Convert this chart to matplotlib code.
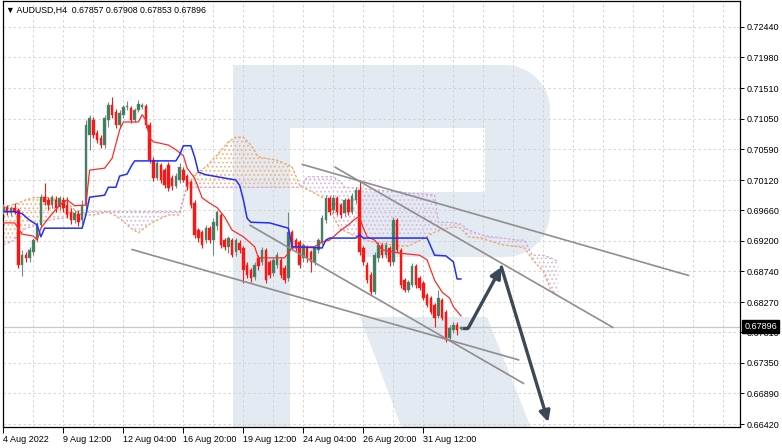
import matplotlib
matplotlib.use("Agg")
import matplotlib.pyplot as plt
from matplotlib.patches import Polygon
import numpy as np

# ---------------- data ----------------
title_text = "AUDUSD,H4  0.67857 0.67908 0.67853 0.67896"
last_price = 0.67896

opens = [0.6964, 0.6971, 0.6964, 0.6970, 0.6967, 0.6883, 0.6898, 0.6894, 0.6903, 0.6921,
         0.6944, 0.6986, 0.6982, 0.6974, 0.6982, 0.6971, 0.6982, 0.6974, 0.6964, 0.6951,
         0.6961, 0.6951, 0.6974, 0.7080, 0.7103, 0.7083, 0.7076, 0.7065, 0.7103, 0.7126,
         0.7115, 0.7095, 0.7111, 0.7123, 0.7121, 0.7103, 0.7118, 0.7123, 0.7124, 0.7095,
         0.7042, 0.7015, 0.7035, 0.7027, 0.7035, 0.7015, 0.7003, 0.7012, 0.7027, 0.7018,
         0.7009, 0.6977, 0.6936, 0.6933, 0.6921, 0.6939, 0.6921, 0.6942, 0.6959, 0.6921,
         0.6911, 0.6921, 0.6903, 0.6917, 0.6909, 0.6883, 0.6876, 0.6865, 0.6894, 0.6888,
         0.6906, 0.6888, 0.6871, 0.6883, 0.6891, 0.6879, 0.6864, 0.6933, 0.6921, 0.6918,
         0.6894, 0.6911, 0.6903, 0.6888, 0.6906, 0.6918, 0.6951, 0.6985, 0.6967, 0.6985,
         0.6974, 0.6962, 0.6982, 0.6964, 0.6982, 0.6997, 0.6909, 0.6883, 0.6868, 0.6842,
         0.6894, 0.6914, 0.6898, 0.6909, 0.6888, 0.6951, 0.6906, 0.6860, 0.6845, 0.6853,
         0.6882, 0.6864, 0.6856, 0.6838, 0.6833, 0.6823, 0.6806, 0.6830, 0.6812, 0.6773,
         0.6785, 0.6792, 0.67857]
closes = [0.6971, 0.6964, 0.6970, 0.6964, 0.6883, 0.6898, 0.6894, 0.6906, 0.6921, 0.6944,
          0.6986, 0.6979, 0.6974, 0.6986, 0.6970, 0.6985, 0.6970, 0.6959, 0.6951, 0.6962,
          0.6948, 0.6974, 0.7095, 0.7106, 0.7080, 0.7073, 0.7065, 0.7106, 0.7126, 0.7111,
          0.7095, 0.7114, 0.7123, 0.7124, 0.7103, 0.7118, 0.7127, 0.7126, 0.7095, 0.7042,
          0.7015, 0.7038, 0.7012, 0.7004, 0.7000, 0.7003, 0.7018, 0.7032, 0.7012, 0.7003,
          0.6974, 0.6929, 0.6924, 0.6914, 0.6939, 0.6921, 0.6948, 0.6964, 0.6914, 0.6911,
          0.6924, 0.6898, 0.6921, 0.6906, 0.6876, 0.6868, 0.6864, 0.6883, 0.6882, 0.6906,
          0.6860, 0.6868, 0.6891, 0.6898, 0.6868, 0.6860, 0.6933, 0.6909, 0.6909, 0.6883,
          0.6914, 0.6894, 0.6888, 0.6909, 0.6921, 0.6954, 0.6985, 0.6964, 0.6985, 0.6964,
          0.6959, 0.6982, 0.6964, 0.6988, 0.6997, 0.6903, 0.6888, 0.6860, 0.6842, 0.6898,
          0.6914, 0.6898, 0.6914, 0.6888, 0.6951, 0.6906, 0.6853, 0.6845, 0.6857, 0.6882,
          0.6853, 0.6848, 0.6833, 0.6823, 0.6812, 0.6803, 0.6833, 0.6803, 0.6770, 0.6788,
          0.6792, 0.6785, 0.67896]
highs = [0.6976, 0.6974, 0.6973, 0.6977, 0.6970, 0.6906, 0.6903, 0.6911, 0.6924, 0.6948,
         0.6991, 0.7007, 0.6986, 0.6989, 0.6988, 0.6988, 0.6986, 0.6986, 0.6970, 0.6967,
         0.6967, 0.6982, 0.7103, 0.7111, 0.7108, 0.7088, 0.7080, 0.7111, 0.7130, 0.7138,
         0.7120, 0.7118, 0.7126, 0.7132, 0.7124, 0.7121, 0.7133, 0.7129, 0.7127, 0.7100,
         0.7047, 0.7042, 0.7038, 0.7030, 0.7039, 0.7020, 0.7023, 0.7038, 0.7032, 0.7021,
         0.7012, 0.6982, 0.6939, 0.6936, 0.6944, 0.6942, 0.6954, 0.6967, 0.6962, 0.6924,
         0.6927, 0.6924, 0.6924, 0.6921, 0.6912, 0.6888, 0.6879, 0.6888, 0.6898, 0.6911,
         0.6909, 0.6891, 0.6894, 0.6903, 0.6895, 0.6883, 0.6964, 0.6936, 0.6924, 0.6921,
         0.6917, 0.6914, 0.6906, 0.6912, 0.6924, 0.6959, 0.6989, 0.6988, 0.6989, 0.6988,
         0.6977, 0.6985, 0.6985, 0.6992, 0.7001, 0.7012, 0.6912, 0.6888, 0.6873, 0.6903,
         0.6918, 0.6917, 0.6918, 0.6912, 0.6956, 0.6954, 0.6909, 0.6864, 0.6860, 0.6886,
         0.6885, 0.6867, 0.6859, 0.6841, 0.6836, 0.6826, 0.6845, 0.6833, 0.6815, 0.6792,
         0.6797, 0.6797, 0.67908]
lows = [0.6961, 0.6959, 0.6957, 0.6961, 0.6879, 0.6867, 0.6888, 0.6888, 0.6898, 0.6918,
        0.6939, 0.6974, 0.6967, 0.6970, 0.6964, 0.6967, 0.6964, 0.6954, 0.6945, 0.6947,
        0.6942, 0.6945, 0.6967, 0.7058, 0.7076, 0.7068, 0.7061, 0.7061, 0.7092, 0.7106,
        0.7091, 0.7091, 0.7106, 0.7118, 0.7098, 0.7100, 0.7115, 0.7120, 0.7091, 0.7038,
        0.7010, 0.7012, 0.7007, 0.7000, 0.6995, 0.6997, 0.7000, 0.7007, 0.7009, 0.6997,
        0.6970, 0.6924, 0.6918, 0.6909, 0.6917, 0.6917, 0.6898, 0.6936, 0.6909, 0.6906,
        0.6901, 0.6895, 0.6897, 0.6901, 0.6856, 0.6864, 0.6857, 0.6860, 0.6876, 0.6883,
        0.6856, 0.6864, 0.6867, 0.6879, 0.6864, 0.6856, 0.6859, 0.6906, 0.6904, 0.6879,
        0.6888, 0.6888, 0.6873, 0.6883, 0.6901, 0.6914, 0.6947, 0.6959, 0.6962, 0.6959,
        0.6954, 0.6957, 0.6959, 0.6961, 0.6977, 0.6898, 0.6883, 0.6856, 0.6838, 0.6839,
        0.6888, 0.6894, 0.6894, 0.6882, 0.6883, 0.6901, 0.6848, 0.6842, 0.6842, 0.6850,
        0.6848, 0.6845, 0.6830, 0.6820, 0.6809, 0.6789, 0.6803, 0.6800, 0.6767, 0.6770,
        0.6780, 0.6777, 0.67853]

x_tick_bars = [0, 16, 32, 48, 64, 80, 96, 112]
x_tick_labels = ["4 Aug 2022", "9 Aug 12:00", "12 Aug 04:00", "16 Aug 20:00",
                 "19 Aug 12:00", "24 Aug 04:00", "26 Aug 20:00", "31 Aug 12:00"]
price_ticks = [0.72440, 0.71980, 0.71510, 0.71050, 0.70590, 0.70120, 0.69660,
               0.69200, 0.68740, 0.68270, 0.67810, 0.67350, 0.66890, 0.66420]

tenkan_bar = [0, 3, 5, 8, 9, 10, 12, 15, 17, 19, 22, 23, 27, 29, 31, 32, 36, 37, 38, 39,
              40, 44, 46, 48, 49, 51, 53, 55, 57, 59, 61, 64, 67, 68, 75, 77, 83, 85, 87, 90,
              92, 94, 95, 96, 97, 99, 101, 106, 111, 113, 115, 117, 119, 120, 122]
tenkan_val = [0.6947, 0.6947, 0.6930, 0.6927, 0.6921, 0.6939, 0.6954, 0.6974, 0.6982, 0.6973,
              0.6974, 0.7027, 0.7030, 0.7045, 0.7088, 0.7100, 0.7100, 0.7111, 0.7103, 0.7076,
              0.7070, 0.7065, 0.7058, 0.7049, 0.7030, 0.7015, 0.6985, 0.6977, 0.6970, 0.6956,
              0.6936, 0.6926, 0.6911, 0.6894, 0.6894, 0.6909, 0.6911, 0.6918, 0.6921, 0.6936,
              0.6944, 0.6954, 0.6956, 0.6939, 0.6926, 0.6921, 0.6906, 0.6901, 0.6898, 0.6891,
              0.6860, 0.6842, 0.6833, 0.6820, 0.6806]

kijun_bar = [0, 3, 5, 7, 9, 10, 11, 21, 22, 23, 27, 28, 30, 31, 33, 34, 35, 46, 47, 48,
             50, 51, 52, 54, 57, 62, 63, 64, 65, 66, 71, 76, 77, 85, 86, 87, 94, 95, 96, 113,
             115, 118, 120, 121, 122]
kijun_val = [0.6964, 0.6964, 0.6961, 0.6951, 0.6944, 0.6926, 0.6939, 0.6939, 0.6959, 0.6986,
             0.6989, 0.7001, 0.7001, 0.7018, 0.7021, 0.7032, 0.7041, 0.7041, 0.7050, 0.7064,
             0.7064, 0.7047, 0.7024, 0.7020, 0.7017, 0.7012, 0.7004, 0.6982, 0.6954, 0.6948,
             0.6947, 0.6939, 0.6911, 0.6909, 0.6921, 0.6924, 0.6924, 0.6929, 0.6924, 0.6924,
             0.6898, 0.6897, 0.6888, 0.6862, 0.6862]

cloud_bar = [0, 2, 4, 6, 8, 10, 11, 14, 16, 17, 19, 21, 22, 24, 28, 31, 34, 36, 39, 42,
             44, 47, 48, 49, 51, 54, 57, 60, 62, 64, 66, 68, 73, 77, 79, 80, 81, 84, 87, 88,
             90, 91, 93, 95, 97, 100, 103, 106, 108, 112, 115, 116, 118, 120, 122, 124, 127, 129, 133, 137,
             139, 141, 144, 146, 148]
span_a = [0.6970, 0.6974, 0.6977, 0.6982, 0.6985, 0.6986, 0.6986, 0.6983, 0.6980, 0.6977,
          0.6967, 0.6959, 0.6959, 0.6959, 0.6964, 0.6954, 0.6939, 0.6932, 0.6945, 0.6954,
          0.6959, 0.6959, 0.6985, 0.7004, 0.7020, 0.7032, 0.7050, 0.7070, 0.7077, 0.7077,
          0.7065, 0.7047, 0.7042, 0.7032, 0.7004, 0.7000, 0.6998, 0.6989, 0.6980, 0.6956,
          0.6936, 0.6935, 0.6929, 0.6926, 0.6920, 0.6917, 0.6914, 0.6912, 0.6912, 0.6923,
          0.6933, 0.6935, 0.6938, 0.6941, 0.6939, 0.6926, 0.6924, 0.6921, 0.6914, 0.6911,
          0.6909, 0.6892, 0.6873, 0.6845, 0.6835]
span_b = [0.6914, 0.6918, 0.6927, 0.6939, 0.6942, 0.6948, 0.6950, 0.6953, 0.6954, 0.6956,
          0.6957, 0.6961, 0.6964, 0.6964, 0.6964, 0.6964, 0.6964, 0.6964, 0.6964, 0.6964,
          0.6964, 0.6964, 0.6982, 0.7001, 0.7001, 0.7001, 0.7001, 0.7001, 0.7001, 0.7001,
          0.7001, 0.7001, 0.7001, 0.7001, 0.7001, 0.7007, 0.7017, 0.7017, 0.7017, 0.7017,
          0.7009, 0.7001, 0.7000, 0.7000, 0.6998, 0.6997, 0.6995, 0.6994, 0.6992, 0.6991,
          0.6989, 0.6948, 0.6948, 0.6947, 0.6945, 0.6936, 0.6930, 0.6927, 0.6924, 0.6921,
          0.6921, 0.6898, 0.6898, 0.6894, 0.6888]

# trend lines: [bar_start, bar_end], [price_start, price_end]
trend1_bar, trend1_val = [34.1, 137.6], [0.6907, 0.6739]
trend2_bar, trend2_val = [65.6, 138.9], [0.6944, 0.6703]
trend3_bar, trend3_val = [79.5, 182.9], [0.7036, 0.6867]
trend4_bar, trend4_val = [88.3, 162.7], [0.7032, 0.6788]
# forecast arrows
arrow_bar = [122.3, 124.0, 132.8, 145.3]
arrow_val = [0.6788, 0.6788, 0.6880, 0.6645]

# ---------------- figure ----------------
FONT = ["Liberation Sans", "DejaVu Sans"]
W, H = 782, 448
fig = plt.figure(figsize=(W / 100, H / 100), dpi=100)
fig.patch.set_facecolor("white")
ax = fig.add_axes([3 / W, 1 - 427 / H, 737 / W, 426 / H])
ax.set_facecolor("white")

xmin = -0.1
ax.set_xlim(xmin, xmin + 737 / 3.75)
ax.set_ylim(0.66376, 0.72834)


def px(x, y):
    return (x / W, 1 - y / H)


# watermark "R"
wm_color = "#E4EAF2"
def arc(cx, cy, r, a0, a1, n=12):
    t = np.linspace(np.radians(a0), np.radians(a1), n)
    return [(cx + r * np.cos(tt), cy - r * np.sin(tt)) for tt in t]

outer = [(233, 65), (505, 65)] + arc(505, 110, 45, 90, 0) + [(550, 212)] + arc(505, 212, 45, 0, -90) + \
        [(360, 257), (360, 192), (485, 192), (485, 128), (290, 128), (290, 450), (233, 450)]
leg = [(360, 317), (487, 317), (540, 450), (410, 450)]
for poly in (outer, leg):
    p = Polygon([px(x, y) for x, y in poly], closed=True, transform=fig.transFigure,
                facecolor=wm_color, edgecolor="none", zorder=0)
    ax.add_patch(p)
    p.set_clip_path(ax.patch)

# grid
for v in price_ticks:
    ax.axhline(v, color="#CFCFCF", lw=0.6, ls=(0, (3, 3)), zorder=1)
for b in range(8, 200, 8):
    ax.axvline(b, color="#CFCFCF", lw=0.6, ls=(0, (3, 3)), zorder=1)

# cloud
plt.rcParams["hatch.linewidth"] = 0.8
ca = np.array(span_a)
cb = np.array(span_b)
ax.fill_between(cloud_bar, ca, cb, where=ca >= cb, interpolate=True, facecolor="none",
                edgecolor="#F4B47E", hatch="....", linewidth=0, zorder=2)
ax.fill_between(cloud_bar, ca, cb, where=ca < cb, interpolate=True, facecolor="none",
                edgecolor="#D8BADE", hatch="....", linewidth=0, zorder=2)
ax.plot(cloud_bar, span_a, color="#F0A060", lw=0.9, ls=(0, (2, 1.5)), zorder=2)
ax.plot(cloud_bar, span_b, color="#D0A8D8", lw=0.9, ls=(0, (2, 1.5)), zorder=2)

# bid line
ax.axhline(last_price, color="#C8C8C8", lw=0.9, zorder=2)

# candles
idx = np.arange(len(opens))
o = np.array(opens); c = np.array(closes)
hi = np.array(highs); lo = np.array(lows)
up = c >= o
bull_body = "#3B7D5E"
bull_wick = "#6F8A7E"
bear = "#FF1414"
ax.vlines(idx[up], lo[up], hi[up], color=bull_wick, lw=0.8, zorder=3)
ax.vlines(idx[~up], lo[~up], hi[~up], color=bear, lw=0.8, zorder=3)
body_h = np.maximum(np.abs(c - o), 0.00004)
ax.bar(idx[up], body_h[up], bottom=np.minimum(o, c)[up], width=0.62, color=bull_body,
       edgecolor=bull_wick, linewidth=0.3, zorder=4)
ax.bar(idx[~up], body_h[~up], bottom=np.minimum(o, c)[~up], width=0.62, color=bear,
       edgecolor=bear, linewidth=0.3, zorder=4)

# ichimoku lines
ax.plot(tenkan_bar, tenkan_val, color="#FF2A2A", lw=0.9, zorder=5)
ax.plot(kijun_bar, kijun_val, color="#1F2FFF", lw=1.1, zorder=5)

# trend lines
for tb, tv in ((trend1_bar, trend1_val), (trend2_bar, trend2_val),
               (trend3_bar, trend3_val), (trend4_bar, trend4_val)):
    ax.plot(tb, tv, color="#8E8E8E", lw=1.2, zorder=6, solid_capstyle="butt")

# arrows
arrow_color = "#3B4856"
ax.plot(arrow_bar[:2], arrow_val[:2], color=arrow_color, lw=2.4, zorder=7, solid_capstyle="butt")
ax.annotate("", xy=(arrow_bar[2], arrow_val[2]), xytext=(arrow_bar[1], arrow_val[1]),
            arrowprops=dict(arrowstyle="-|>", color=arrow_color, lw=2.4,
                            mutation_scale=16, shrinkA=0, shrinkB=0), zorder=7)
ax.annotate("", xy=(arrow_bar[3], arrow_val[3]), xytext=(arrow_bar[2], arrow_val[2]),
            arrowprops=dict(arrowstyle="-|>", color=arrow_color, lw=2.4,
                            mutation_scale=16, shrinkA=0, shrinkB=0), zorder=7)

# axes styling
for s in ax.spines.values():
    s.set_color("black")
    s.set_linewidth(0.9)
ax.yaxis.tick_right()
ax.set_yticks(price_ticks)
ax.set_yticklabels([f"{v:.5f}" for v in price_ticks], fontsize=6.5, family=FONT)
ax.tick_params(axis="y", direction="out", length=3, width=0.7, pad=2, colors="black")
ax.set_xticks(x_tick_bars)
ax.set_xticklabels(x_tick_labels, fontsize=6.5, family=FONT, ha="left")
ax.tick_params(axis="x", direction="out", length=4, width=0.7, pad=1.5, colors="black")

# last price box
ax.annotate(f"{last_price:.5f}", xy=(1.0, last_price), xycoords=("axes fraction", "data"),
            xytext=(3, 0), textcoords="offset points", va="center", ha="left",
            fontsize=6.5, color="white", family=FONT, zorder=10,
            bbox=dict(boxstyle="square,pad=0.2", facecolor="black", edgecolor="black"),
            annotation_clip=False)

# title
fig.text(6 / W, 1 - 10 / H, "\u25BC " + title_text, fontsize=6.3, va="center", ha="left",
         family=FONT, color="black")

fig.savefig("out.png", dpi=100, facecolor="white")
